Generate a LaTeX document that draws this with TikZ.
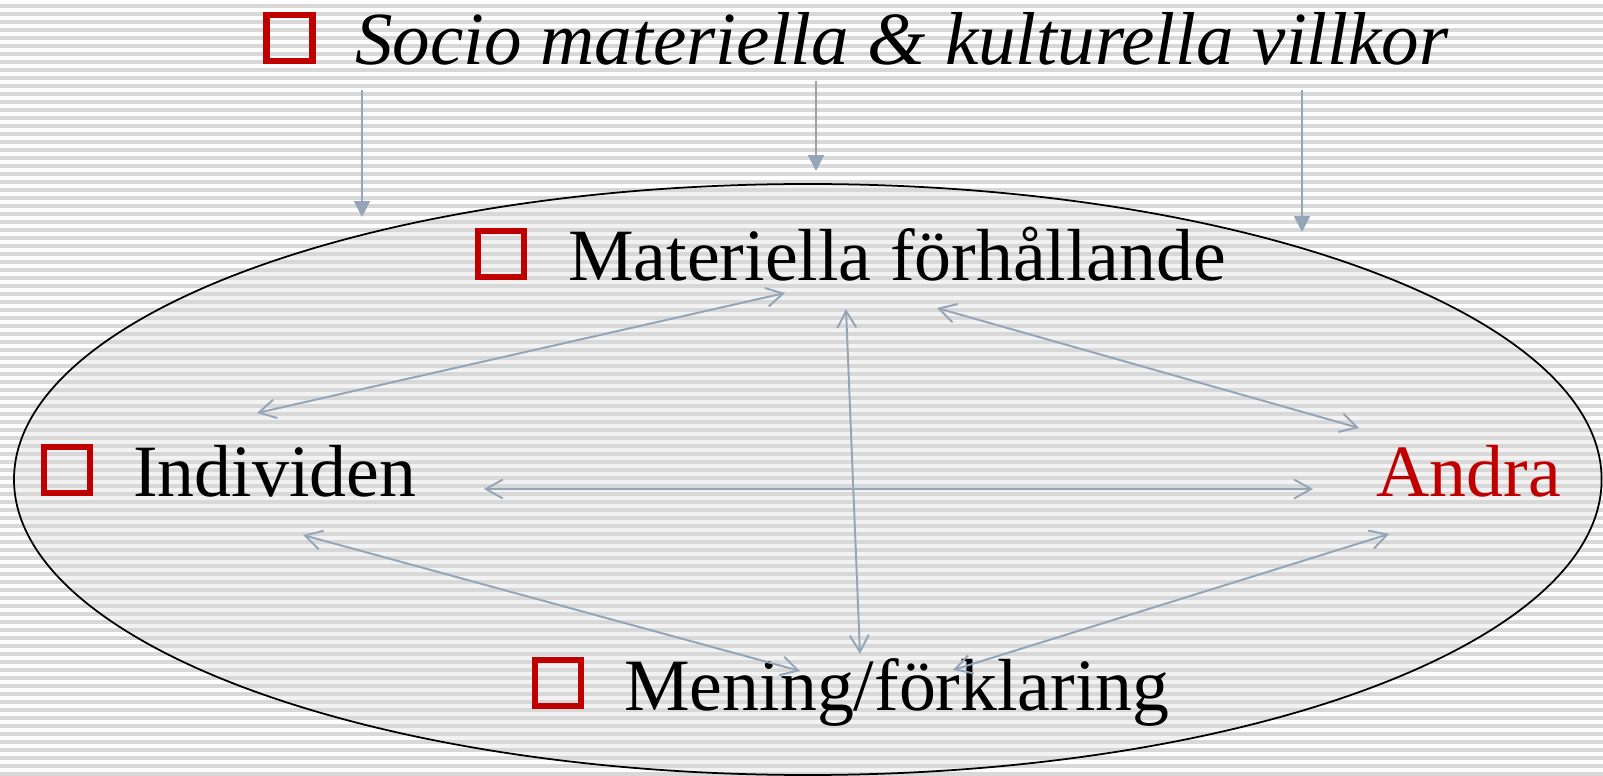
\documentclass[tikz,border=0pt]{standalone}
\usepackage{fontspec}
\setmainfont{Liberation Serif}
\usetikzlibrary{arrows.meta}

\definecolor{bulletred}{HTML}{C00000}
\definecolor{linkgray}{HTML}{94A5B8}
\definecolor{stripegray}{HTML}{D8D8D8}
\definecolor{ovalfill}{HTML}{F2F2F2}

\begin{document}
\begin{tikzpicture}[x = 0.02cm, y = -0.02cm,
    bullet/.style = {shape = rectangle, draw = bulletred, line width = 3.8pt, minimum size = 0.926cm, inner sep = 0pt},
    term/.style = {anchor = base west, inner sep = 0pt, font = \fontsize{42}{50}\selectfont},
    link/.style = {draw = linkgray, line width = 1.1pt, {Straight Barb[length = 9.6pt, width = 10.8pt]}-{Straight Barb[length = 9.6pt, width = 10.8pt]}},
    feed/.style = {draw = linkgray, line width = 1.1pt, -{Triangle[length = 9pt, width = 9pt]}},
    stripe/.style = {draw = stripegray, line width = 1.8pt},
    ]
    \useasboundingbox (0, 0) rectangle (1603, 776);
    \fill[white] (0, 0) rectangle (1603, 776);

    % oval and striped background
    \fill[ovalfill] (807.8, 479.5) ellipse [x radius = 793.8, y radius = 295.5];
    \foreach \y in {6, 14, ..., 774}
        \draw[stripe] (0, \y) -- (1603, \y);
    \draw[line width = 1pt] (807.8, 479.5) ellipse [x radius = 793.8, y radius = 295.5];

    \node[bullet] (sq-socio) at (289.5, 38) {};
    \node[term, font = \fontsize{42.7}{50}\selectfont\itshape] (socio) at (355, 65) {Socio materiella \& kulturella villkor};

    \node[bullet] (sq-mat) at (501, 254) {};
    \node[term] (mat) at (568, 281) {Materiella förhållande};

    \node[bullet] (sq-ind) at (67, 470) {};
    \node[term] (ind) at (133, 497) {Individen};

    \node[term, text = bulletred] (andra) at (1376, 497) {Andra};

    \node[bullet] (sq-men) at (558, 683) {};
    \node[term] (men) at (624, 710) {Mening/förklaring};

    % arrow ends
    \coordinate (top1) at (362, 90);
    \coordinate (hit1) at (362, 217);
    \coordinate (top2) at (816, 81);
    \coordinate (hit2) at (816, 171);
    \coordinate (top3) at (1302, 90);
    \coordinate (hit3) at (1302, 232);

    \coordinate (mat-w) at (785, 293);
    \coordinate (mat-s) at (846, 309);
    \coordinate (mat-e) at (937, 308);
    \coordinate (ind-ne) at (257, 413);
    \coordinate (ind-e) at (484, 489);
    \coordinate (ind-se) at (303, 535);
    \coordinate (and-nw) at (1359, 428);
    \coordinate (and-w) at (1313, 489);
    \coordinate (and-sw) at (1389, 534);
    \coordinate (men-nw) at (800, 671);
    \coordinate (men-n) at (860, 654);
    \coordinate (men-ne) at (953, 670);

    \path[feed] (top1) -- (hit1);
    \path[feed] (top2) -- (hit2);
    \path[feed] (top3) -- (hit3);

    \path[link] (ind-ne) -- (mat-w);
    \path[link] (mat-s) -- (men-n);
    \path[link] (mat-e) -- (and-nw);
    \path[link] (ind-e) -- (and-w);
    \path[link] (ind-se) -- (men-nw);
    \path[link] (and-sw) -- (men-ne);
\end{tikzpicture}
\end{document}
